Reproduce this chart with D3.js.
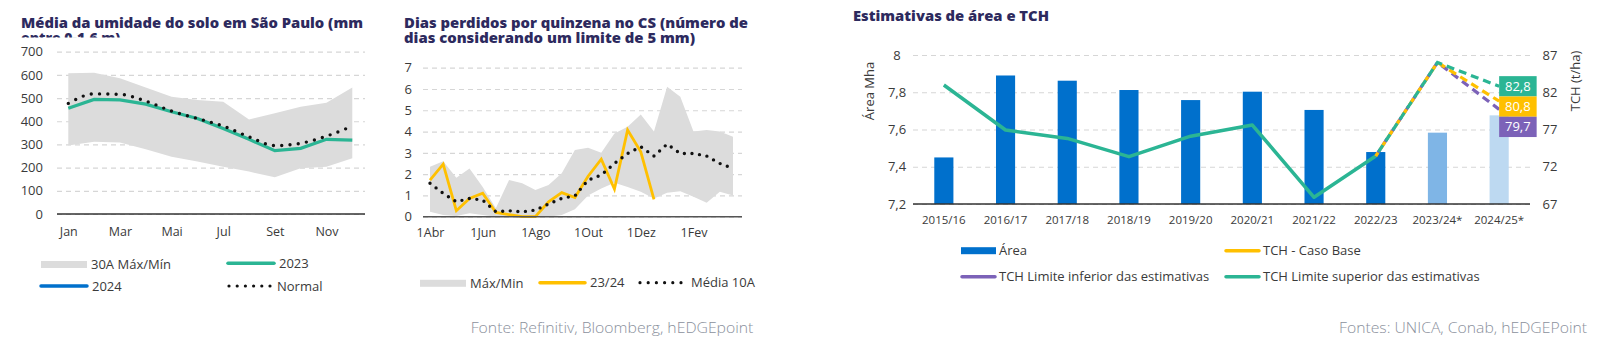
<!DOCTYPE html>
<html>
<head>
<meta charset="utf-8">
<script src="https://cdn.jsdelivr.net/npm/d3@7"></script>
<style>
  body { margin: 0; background: #fff; }
  text { font-family: "Open Sans", sans-serif; }
</style>
</head>
<body>
<div id="chart"></div>
<script>
// --- dados: umidade do solo (mm), mensal
const meses = ["Jan", "Fev", "Mar", "Abr", "Mai", "Jun", "Jul", "Ago", "Set", "Out", "Nov", "Dez"];
const mesesTicks = ["Jan", "Mar", "Mai", "Jul", "Set", "Nov"];
const umidMax = [607, 609, 585, 546, 506, 492, 484, 408, 434, 463, 480, 546];
const umidMin = [295, 312, 308, 279, 247, 226, 204, 183, 158, 197, 204, 240];
const umid2023 = [456, 494, 492, 474, 441, 412, 369, 322, 273, 283, 322, 319];
const umidNormal = [477, 518, 516, 487, 444, 412, 379, 333, 295, 305, 336, 379];
const umidTicks = [0, 100, 200, 300, 400, 500, 600, 700];

// --- dados: dias perdidos por quinzena
const quinzenas = ["1Abr", "16Abr", "1Mai", "16Mai", "1Jun", "16Jun", "1Jul", "16Jul",
  "1Ago", "16Ago", "1Set", "16Set", "1Out", "16Out", "1Nov", "16Nov",
  "1Dez", "16Dez", "1Jan", "16Jan", "1Fev", "16Fev", "1Mar", "16Mar"];
const quinzenasTicks = ["1Abr", "1Jun", "1Ago", "1Out", "1Dez", "1Fev"];
const diasMax = [2.35, 2.6, 1.83, 2.27, 1.4, 0.4, 1.72, 1.57, 1.25, 1.49, 2.04, 3.13,
  3.24, 3.0, 3.91, 4.23, 4.8, 4.0, 6.1, 5.64, 4.0, 4.07, 4.0, 3.76];
const diasMin = [0.23, 0.08, 0.03, 0.16, 0.08, 0, 0, 0, 0, 0, 0.08, 0.35,
  1.0, 1.33, 1.6, 1.4, 1.17, 0.86, 1.13, 1.2, 0.94, 0.66, 1.17, 1.0];
const dias2324 = [1.72, 2.47, 0.28, 0.86, 1.1, 0.2, 0.1, 0, 0, 0.7, 1.13, 0.9,
  1.9, 2.7, 1.3, 4.07, 3.05, 0.81];
const dias10A = [1.57, 1.1, 0.7, 0.86, 0.78, 0.23, 0.28, 0.23, 0.31, 0.6, 0.86, 0.98,
  1.72, 1.96, 2.5, 2.97, 3.29, 2.85, 3.41, 2.97, 2.97, 2.85, 2.5, 2.27];
const diasTicks = [0, 1, 2, 3, 4, 5, 6, 7];

// --- dados: área e TCH
const safras = ["2015/16", "2016/17", "2017/18", "2018/19", "2019/20", "2020/21",
  "2021/22", "2022/23", "2023/24*", "2024/25*"];
const area = [7.45, 7.89, 7.862, 7.812, 7.758, 7.803, 7.705, 7.479, 7.583, 7.676];
const tch = [82.97, 76.93, 75.8, 73.35, 76.1, 77.6, 67.9, 73.44];
const safrasProj = ["2022/23", "2023/24*", "2024/25*"];
const tchBase = [73.44, 86.0, 80.8];
const tchInf = [73.44, 86.0, 79.7];
const tchSup = [73.44, 86.0, 82.8];
const areaTicks = [7.2, 7.4, 7.6, 7.8, 8];
const tchTicks = [67, 72, 77, 82, 87];

const navy = "#2d2a5e", teal = "#2bb594", yellow = "#ffc000", purple = "#7c62b8",
  blue = "#0070cc", grey = "#dcdcdc", txt = "#3a3a3a";

const svg = d3.select("#chart").append("svg")
  .attr("width", 1600)
  .attr("height", 346);

function styleGrid(g) {
  g.select(".domain").remove();
  g.selectAll(".tick line")
    .attr("stroke", "#d6d6d6")
    .attr("stroke-width", 1.2)
    .attr("stroke-dasharray", "5,4");
  g.selectAll(".tick text")
    .attr("fill", txt)
    .style("font-size", "13px");
}

function styleX(g, size) {
  g.select(".domain").remove();
  g.selectAll(".tick text")
    .attr("fill", txt)
    .style("font-size", size + "px");
}

function title(lines, x, y0, widths, clipId) {
  const t = svg.append("g");
  if (clipId) t.attr("clip-path", `url(#${clipId})`);
  lines.forEach((s, i) => {
    const el = t.append("text")
      .attr("x", x)
      .attr("y", y0 + i * 14.4)
      .attr("fill", navy)
      .style("font-size", "14px")
      .style("font-weight", 800)
      .text(s);
    if (widths[i]) el.attr("textLength", widths[i]).attr("lengthAdjust", "spacingAndGlyphs");
  });
}

function legendRect(x, y, label, color, size) {
  svg.append("rect").attr("x", x).attr("y", y - 3.5).attr("width", 46).attr("height", 7).attr("fill", color);
  svg.append("text").attr("x", x + 50).attr("y", y + 4.5).attr("fill", txt)
    .style("font-size", size + "px").text(label);
}

function legendLine(x, y, w, label, color, dotted, size) {
  const l = svg.append("line")
    .attr("x1", x).attr("x2", x + w).attr("y1", y).attr("y2", y)
    .attr("stroke", color)
    .attr("stroke-linecap", "round");
  if (dotted) l.attr("stroke-width", 3.2).attr("stroke-dasharray", "0 8.2");
  else l.attr("stroke-width", 3.5);
  svg.append("text").attr("x", x + w + 5).attr("y", y + 4.5).attr("fill", txt)
    .style("font-size", size + "px").text(label);
}

// ================= gráfico 1: umidade =================
// a segunda linha do título fica cortada pela área do gráfico, como no original
svg.append("defs").append("clipPath").attr("id", "clipT1")
  .append("rect").attr("x", 0).attr("y", 0).attr("width", 380).attr("height", 37.5);
title(["Média da umidade do solo em São Paulo (mm", "entre 0-1,6 m)"], 21, 28.3, [342, null], "clipT1");

const x1 = d3.scalePoint().domain(meses).range([68.3, 352.3]);
const y1 = d3.scaleLinear().domain([0, 700]).range([214, 51.7]);

svg.append("g")
  .attr("transform", "translate(57,0)")
  .call(d3.axisLeft(y1).tickValues(umidTicks).tickSize(-308).tickPadding(14))
  .call(styleGrid);

svg.append("path")
  .datum(meses)
  .attr("fill", grey)
  .attr("d", d3.area()
    .x(d => x1(d))
    .y0((d, i) => y1(umidMin[i]))
    .y1((d, i) => y1(umidMax[i])));

svg.append("path")
  .datum(umid2023)
  .attr("fill", "none")
  .attr("stroke", teal)
  .attr("stroke-width", 3.2)
  .attr("d", d3.line().x((d, i) => x1(meses[i])).y(d => y1(d)));

svg.append("path")
  .datum(umidNormal)
  .attr("fill", "none")
  .attr("stroke", "#111")
  .attr("stroke-width", 3.4)
  .attr("stroke-linecap", "round")
  .attr("stroke-dasharray", "0 8.3")
  .attr("d", d3.line().curve(d3.curveMonotoneX).x((d, i) => x1(meses[i])).y(d => y1(d)));

svg.append("line")
  .attr("x1", 57).attr("x2", 365).attr("y1", y1(0)).attr("y2", y1(0))
  .attr("stroke", "#333").attr("stroke-width", 1.5);

svg.append("g")
  .attr("transform", `translate(0,${y1(0)})`)
  .call(d3.axisBottom(x1).tickValues(mesesTicks).tickSize(0).tickPadding(13))
  .call(g => styleX(g, 12.5));

legendRect(41, 264.5, "30A Máx/Mín", grey, 13);
legendLine(228, 263.3, 46, "2023", teal, false, 13);
legendLine(41, 286, 46, "2024", blue, false, 13);
legendLine(229, 286, 43, "Normal", "#111", true, 13);

// ================= gráfico 2: dias perdidos =================
title(["Dias perdidos por quinzena no CS (número de", "dias considerando um limite de 5 mm)"], 404, 28.3, [344, 291]);

const x2 = d3.scalePoint().domain(quinzenas).range([430, 733]);
const y2 = d3.scaleLinear().domain([0, 7]).range([216.7, 67.7]);

svg.append("g")
  .attr("transform", "translate(423,0)")
  .call(d3.axisLeft(y2).tickValues(diasTicks).tickSize(-319).tickPadding(11).tickFormat(d3.format("d")))
  .call(styleGrid);

svg.append("path")
  .datum(quinzenas)
  .attr("fill", grey)
  .attr("d", d3.area()
    .x(d => x2(d))
    .y0((d, i) => y2(diasMin[i]))
    .y1((d, i) => y2(diasMax[i])));

svg.append("path")
  .datum(dias2324)
  .attr("fill", "none")
  .attr("stroke", yellow)
  .attr("stroke-width", 2.8)
  .attr("d", d3.line().x((d, i) => x2(quinzenas[i])).y(d => y2(d)));

svg.append("path")
  .datum(dias10A)
  .attr("fill", "none")
  .attr("stroke", "#111")
  .attr("stroke-width", 3.4)
  .attr("stroke-linecap", "round")
  .attr("stroke-dasharray", "0 7.6")
  .attr("d", d3.line().x((d, i) => x2(quinzenas[i])).y(d => y2(d)));

svg.append("line")
  .attr("x1", 423).attr("x2", 742).attr("y1", y2(0)).attr("y2", y2(0))
  .attr("stroke", "#555").attr("stroke-width", 1.5);

svg.append("g")
  .attr("transform", `translate(0,${y2(0)})`)
  .call(d3.axisBottom(x2).tickValues(quinzenasTicks).tickSize(0).tickPadding(11))
  .call(g => styleX(g, 12.5));

legendRect(420, 283.3, "Máx/Min", grey, 13);
legendLine(540, 282.7, 45, "23/24", yellow, false, 13);
legendLine(640, 282.7, 46, "Média 10A", "#111", true, 13);

svg.append("text")
  .attr("x", 470.7).attr("y", 333)
  .attr("fill", "#8a909c")
  .attr("textLength", 282.7).attr("lengthAdjust", "spacingAndGlyphs")
  .style("font-size", "14px").style("font-weight", 300)
  .text("Fonte: Refinitiv, Bloomberg, hEDGEpoint");

// ================= gráfico 3: área e TCH =================
title(["Estimativas de área e TCH"], 853, 20.7, [196]);

const x3 = d3.scaleBand().domain(safras).range([913, 1530]).paddingInner(0.69).paddingOuter(0.345);
const yA = d3.scaleLinear().domain([7.2, 8]).range([204, 55]);
const yT = d3.scaleLinear().domain([67, 87]).range([204, 55]);
const cx = d => x3(d) + x3.bandwidth() / 2;
const fmt = d => String(d).replace(".", ",");

svg.append("g")
  .attr("transform", "translate(913,0)")
  .call(d3.axisLeft(yA).tickValues(areaTicks).tickSize(-617).tickFormat(fmt))
  .call(styleGrid)
  .call(g => g.selectAll(".tick text").attr("x", -16).attr("text-anchor", "middle"));

svg.append("g")
  .attr("transform", "translate(1530,0)")
  .call(d3.axisRight(yT).tickValues(tchTicks).tickSize(0))
  .call(g => g.select(".domain").remove())
  .call(g => g.selectAll(".tick text").attr("x", 20).attr("text-anchor", "middle")
    .attr("fill", txt).style("font-size", "13px"));

const barColor = d => d === "2023/24*" ? "#7fb5e6" : d === "2024/25*" ? "#bdd9f1" : blue;

svg.append("g").selectAll("rect")
  .data(safras)
  .join("rect")
  .attr("x", d => x3(d))
  .attr("width", x3.bandwidth())
  .attr("y", (d, i) => yA(area[i]))
  .attr("height", (d, i) => yA(7.2) - yA(area[i]))
  .attr("fill", d => barColor(d));

svg.append("path")
  .datum(tch)
  .attr("fill", "none")
  .attr("stroke", teal)
  .attr("stroke-width", 3.5)
  .attr("stroke-linejoin", "round")
  .attr("d", d3.line().x((d, i) => cx(safras[i])).y(d => yT(d)));

[[tchInf, purple, 0], [tchBase, yellow, 4], [tchSup, teal, 8]].forEach(([vals, color, off]) => {
  svg.append("path")
    .datum(vals)
    .attr("fill", "none")
    .attr("stroke", color)
    .attr("stroke-width", 3.2)
    .attr("stroke-dasharray", "8,5")
    .attr("stroke-dashoffset", off)
    .attr("d", d3.line().x((d, i) => cx(safrasProj[i])).y(d => yT(d)));
});

svg.append("line")
  .attr("x1", 913).attr("x2", 1530).attr("y1", yA(7.2)).attr("y2", yA(7.2))
  .attr("stroke", "#333").attr("stroke-width", 1.5);

svg.append("g")
  .attr("transform", `translate(0,${yA(7.2)})`)
  .call(d3.axisBottom(x3).tickSize(0).tickPadding(12))
  .call(g => styleX(g, 11.5));

// rótulos das estimativas 2024/25, empilhados
const last = safras[safras.length - 1];
const rotulos = [[tchSup[2], teal], [tchBase[2], yellow], [tchInf[2], purple]];
let prevBottom = -Infinity;
rotulos.forEach(([v, color]) => {
  const h = 20.3;
  const top = Math.max(yT(v) - h / 2, prevBottom);
  prevBottom = top + h;
  svg.append("rect")
    .attr("x", cx(last)).attr("y", top)
    .attr("width", 37.5).attr("height", h)
    .attr("fill", color);
  svg.append("text")
    .attr("x", cx(last) + 18.7).attr("y", top + h / 2 + 4.6)
    .attr("text-anchor", "middle")
    .attr("fill", "#fff")
    .style("font-size", "13px")
    .text(fmt(v));
});

svg.append("text")
  .attr("transform", "translate(874,91) rotate(-90)")
  .attr("text-anchor", "middle")
  .attr("fill", txt)
  .style("font-size", "13px")
  .text("Área Mha");

svg.append("text")
  .attr("transform", "translate(1580,81) rotate(-90)")
  .attr("text-anchor", "middle")
  .attr("fill", txt)
  .style("font-size", "13px")
  .text("TCH (t/ha)");

function legendR(x, y, label, color, isRect) {
  if (isRect) {
    svg.append("rect").attr("x", x).attr("y", y - 3.5).attr("width", 35).attr("height", 7).attr("fill", color);
  } else {
    svg.append("line").attr("x1", x + 1).attr("x2", x + 34).attr("y1", y).attr("y2", y)
      .attr("stroke", color).attr("stroke-width", 3.5).attr("stroke-linecap", "round");
  }
  svg.append("text").attr("x", x + 38).attr("y", y + 4.5).attr("fill", txt)
    .style("font-size", "13px").text(label);
}
legendR(961, 250.7, "Área", blue, true);
legendR(1225, 250.7, "TCH - Caso Base", yellow, false);
legendR(961, 276.7, "TCH Limite inferior das estimativas", purple, false);
legendR(1225, 276.7, "TCH Limite superior das estimativas", teal, false);

svg.append("text")
  .attr("x", 1339).attr("y", 333)
  .attr("fill", "#8a909c")
  .attr("textLength", 248).attr("lengthAdjust", "spacingAndGlyphs")
  .style("font-size", "14px").style("font-weight", 300)
  .text("Fontes: UNICA, Conab, hEDGEPoint");
</script>
</body>
</html>
